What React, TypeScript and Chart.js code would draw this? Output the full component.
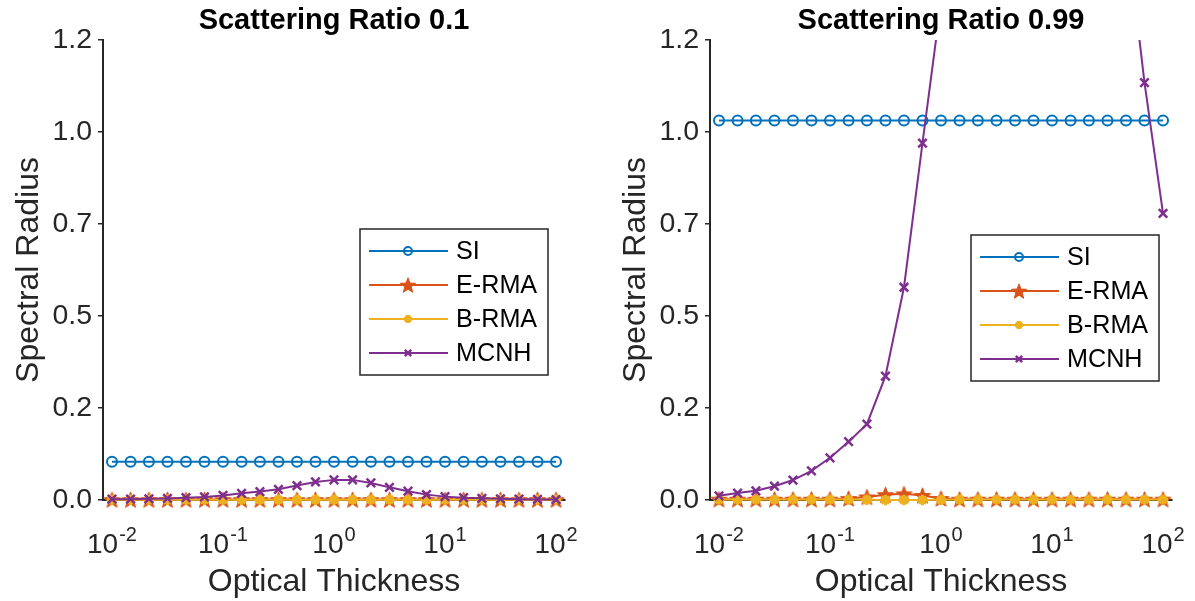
import React, { useEffect, useRef } from 'react';
import { Chart, registerables } from 'chart.js';
import { drawPoint } from 'chart.js/helpers';

Chart.register(...registerables);

const FONT = '"Liberation Sans", Arial, Helvetica, sans-serif';
Chart.defaults.font.family = FONT;

// ---------- data ----------
const opticalThickness = [
  0.01, 0.0147, 0.0215, 0.0316, 0.0464, 0.0681,
  0.1, 0.147, 0.215, 0.316, 0.464, 0.681,
  1, 1.47, 2.15, 3.16, 4.64, 6.81,
  10, 14.7, 21.5, 31.6, 46.4, 68.1, 100,
];

const seriesNames = ['SI', 'E-RMA', 'B-RMA', 'MCNH'];
const panelTitles = ['Scattering Ratio 0.1', 'Scattering Ratio 0.99'];

// Scattering ratio 0.1
const siLow = [0.1, 0.1, 0.1, 0.1, 0.1, 0.1, 0.1, 0.1, 0.1, 0.1, 0.1, 0.1, 0.1, 0.1, 0.1, 0.1, 0.1, 0.1, 0.1, 0.1, 0.1, 0.1, 0.1, 0.1, 0.1];
const eRmaLow = [0.001, 0.001, 0.001, 0.001, 0.001, 0.001, 0.001, 0.001, 0.001, 0.001, 0.001, 0.001, 0.001, 0.001, 0.001, 0.001, 0.001, 0.001, 0.001, 0.001, 0.001, 0.001, 0.001, 0.001, 0.001];
const bRmaLow = [0.0005, 0.0005, 0.0005, 0.0005, 0.0005, 0.0005, 0.0005, 0.0005, 0.0005, 0.0005, 0.0005, 0.0005, 0.0005, 0.0005, 0.0005, 0.0005, 0.0005, 0.0005, 0.0005, 0.0005, 0.0005, 0.0005, 0.0005, 0.0005, 0.0005];
const mcnhLow = [0.002, 0.002, 0.003, 0.004, 0.006, 0.008, 0.012, 0.0175, 0.022, 0.028, 0.0376, 0.047, 0.0525, 0.0525, 0.0446, 0.033, 0.023, 0.014, 0.0088, 0.006, 0.0044, 0.003, 0.002, 0.0015, 0.001];

// Scattering ratio 0.99
const siHigh = [0.99, 0.99, 0.99, 0.99, 0.99, 0.99, 0.99, 0.99, 0.99, 0.99, 0.99, 0.99, 0.99, 0.99, 0.99, 0.99, 0.99, 0.99, 0.99, 0.99, 0.99, 0.99, 0.99, 0.99, 0.99];
const eRmaHigh = [0.002, 0.002, 0.002, 0.002, 0.002, 0.002, 0.002, 0.004, 0.008, 0.014, 0.016, 0.012, 0.004, 0.002, 0.002, 0.002, 0.002, 0.002, 0.002, 0.002, 0.002, 0.002, 0.002, 0.002, 0.002];
const bRmaHigh = [0.001, 0.001, 0.001, 0.001, 0.001, 0.001, 0.001, 0.001, 0.0005, 0.0, 0.0, 0.0, 0.0005, 0.001, 0.001, 0.001, 0.001, 0.001, 0.001, 0.001, 0.001, 0.001, 0.001, 0.001, 0.001];
const mcnhHigh = [0.011, 0.018, 0.024, 0.036, 0.052, 0.076, 0.11, 0.152, 0.198, 0.323, 0.555, 0.931, 1.3, 1.6, 1.9, 2.2, 2.4, 2.5, 2.4, 2.2, 1.95, 1.7, 1.5, 1.089, 0.748];

const yTicks = [0, 0.24, 0.48, 0.72, 0.96, 1.2];
const xTicks = [0.01, 0.1, 1, 10, 100];
const xTickBase = '10';
const xTickExponents = ['-2', '-1', '0', '1', '2'];
const xMin = 0.0083;
const xMax = 120.5;

const colors = ['#0072BD', '#D95319', '#EDB120', '#7E2F8E'];
const axisColor = '#262626';

// ---------- marker image for filled pentagram ----------
function makeStar(r: number, color: string) {
  const c = document.createElement('canvas');
  const s = Math.ceil(r * 2 + 2);
  c.width = s;
  c.height = s;
  const ctx = c.getContext('2d')!;
  const cx = s / 2;
  const cy = s / 2 + r * 0.1;
  const inner = r * 0.42;
  ctx.beginPath();
  for (let k = 0; k < 10; k++) {
    const ang = -Math.PI / 2 + (k * Math.PI) / 5;
    const rad = k % 2 === 0 ? r : inner;
    const px = cx + rad * Math.cos(ang);
    const py = cy + rad * Math.sin(ang);
    if (k === 0) ctx.moveTo(px, py);
    else ctx.lineTo(px, py);
  }
  ctx.closePath();
  ctx.fillStyle = color;
  ctx.fill();
  ctx.strokeStyle = color;
  ctx.lineWidth = 1;
  ctx.stroke();
  return c;
}

// ---------- MATLAB-like boxed legend ----------
const boxLegend = {
  id: 'boxLegend',
  afterDatasetsDraw(chart: any, _args: any, opts: any) {
    const { ctx, chartArea } = chart;
    const w = opts.width;
    const h = opts.height;
    const x = chartArea.right - opts.right - w;
    const y = chartArea.top + opts.top;
    ctx.save();
    ctx.fillStyle = '#ffffff';
    ctx.fillRect(x, y, w, h);
    ctx.strokeStyle = axisColor;
    ctx.lineWidth = 1.5;
    ctx.strokeRect(x, y, w, h);
    ctx.font = `${opts.fontSize}px ${FONT}`;
    ctx.textBaseline = 'middle';
    ctx.textAlign = 'left';
    chart.data.datasets.forEach((ds: any, i: number) => {
      const ry = y + opts.rowStart + i * opts.rowGap;
      ctx.strokeStyle = ds.borderColor;
      ctx.lineWidth = ds.borderWidth;
      ctx.beginPath();
      ctx.moveTo(x + 9, ry);
      ctx.lineTo(x + 88, ry);
      ctx.stroke();
      ctx.fillStyle = ds.pointBackgroundColor;
      ctx.strokeStyle = ds.pointBorderColor;
      ctx.lineWidth = ds.pointBorderWidth;
      drawPoint(ctx, {
        pointStyle: ds.legendPointStyle ?? ds.pointStyle,
        radius: ds.legendRadius ?? ds.pointRadius,
        rotation: 0,
        borderWidth: ds.pointBorderWidth,
      } as any, x + 48, ry);
      ctx.fillStyle = '#000000';
      ctx.fillText(ds.label, x + 96, ry + 1);
    });
    ctx.restore();
  },
};

// ---------- power-of-ten tick labels (10 with raised exponent) ----------
const powerTicks = {
  id: 'powerTicks',
  afterDraw(chart: any) {
    const sx = chart.scales.x;
    const ctx = chart.ctx;
    ctx.save();
    ctx.fillStyle = axisColor;
    ctx.textAlign = 'left';
    ctx.textBaseline = 'alphabetic';
    xTicks.forEach((v, k) => {
      const exp = xTickExponents[k];
      ctx.font = `28px ${FONT}`;
      const wb = ctx.measureText(xTickBase).width;
      ctx.font = `20px ${FONT}`;
      const we = ctx.measureText(exp).width;
      const x0 = sx.getPixelForValue(v) - (wb + we + 1) / 2;
      const yb = sx.top + 53;
      ctx.font = `28px ${FONT}`;
      ctx.fillText(xTickBase, x0, yb);
      ctx.font = `20px ${FONT}`;
      ctx.fillText(exp, x0 + wb + 1, yb - 12);
    });
    ctx.restore();
  },
};

function buildConfig(title: string, series: number[][], legendPos: { right: number; top: number }, star: any, smallStar: any) {
  const toPts = (arr: number[]) => opticalThickness.map((x, i) => ({ x, y: arr[i] }));
  const noClip = { left: false, right: false, bottom: false, top: false };
  const datasets: any[] = [
    {
      label: seriesNames[0], data: toPts(series[0]), borderColor: colors[0], borderWidth: 2,
      pointStyle: 'circle', pointRadius: 5, pointBorderWidth: 2, pointBorderColor: colors[0],
      pointBackgroundColor: 'rgba(0,0,0,0)', order: 4, clip: noClip, legendRadius: 4,
    },
    {
      label: seriesNames[1], data: toPts(series[1]), borderColor: colors[1], borderWidth: 2,
      pointStyle: star, pointRadius: 8, pointBorderWidth: 1, pointBorderColor: colors[1],
      pointBackgroundColor: colors[1], order: 3, clip: noClip, legendPointStyle: smallStar,
    },
    {
      label: seriesNames[2], data: toPts(series[2]), borderColor: colors[2], borderWidth: 2,
      pointStyle: 'star', pointRadius: 5.2, pointBorderWidth: 3, pointBorderColor: colors[2],
      pointBackgroundColor: colors[2], order: 2, clip: noClip, legendRadius: 4,
    },
    {
      label: seriesNames[3], data: toPts(series[3]), borderColor: colors[3], borderWidth: 2,
      pointStyle: 'crossRot', pointRadius: 6, pointBorderWidth: 2.5, pointBorderColor: colors[3],
      pointBackgroundColor: colors[3], order: 1,
      clip: { left: false, right: false, bottom: false, top: 0 }, legendRadius: 4.5,
    },
  ];

  return {
    type: 'line',
    data: { datasets },
    options: {
      responsive: false,
      animation: false,
      events: [],
      layout: { padding: { left: 0, right: 24, top: 0, bottom: 0 } },
      plugins: {
        legend: { display: false },
        tooltip: { enabled: false },
        title: {
          display: true, text: title, fullSize: false, color: '#000000',
          font: { size: 29, weight: 'bold', family: FONT },
          padding: { top: 4, bottom: 1.2 },
        },
        boxLegend: { ...legendPos, width: 188, height: 146, rowStart: 22, rowGap: 34, fontSize: 25.2 },
      },
      scales: {
        x: {
          type: 'logarithmic', min: xMin, max: xMax,
          afterBuildTicks: (s: any) => { s.ticks = xTicks.map((v) => ({ value: v })); },
          afterFit: (s: any) => { s.paddingLeft = 0; s.paddingRight = 0; s.height = 101; },
          ticks: { display: false, autoSkip: false },
          grid: { display: true, drawOnChartArea: false, drawTicks: true, tickLength: 5, color: axisColor, lineWidth: 1.5 },
          border: { display: true, color: axisColor, width: 2 },
          title: {
            display: true, text: 'Optical Thickness', color: axisColor,
            font: { size: 32, family: FONT }, padding: { top: 0, bottom: 0 },
          },
        },
        y: {
          type: 'linear', min: 0, max: 1.2,
          afterBuildTicks: (s: any) => { s.ticks = yTicks.map((v) => ({ value: v })); },
          afterFit: (s: any) => { s.width = 103; s.paddingTop = 0; s.paddingBottom = 0; },
          ticks: {
            callback: (v: any) => Number(v).toFixed(1),
            font: { size: 28.5, family: FONT }, color: axisColor, padding: 6,
          },
          grid: { display: true, drawOnChartArea: false, drawTicks: true, tickLength: 5, color: axisColor, lineWidth: 1.5 },
          border: { display: true, color: axisColor, width: 2 },
          title: {
            display: true, text: 'Spectral Radius', color: axisColor,
            font: { size: 32, family: FONT }, padding: { top: 10, bottom: 0 },
          },
        },
      },
    },
    plugins: [boxLegend, powerTicks],
  } as any;
}

export default function App() {
  const leftRef = useRef<HTMLCanvasElement | null>(null);
  const rightRef = useRef<HTMLCanvasElement | null>(null);

  useEffect(() => {
    document.body.style.margin = '0';
    const star = makeStar(8.5, colors[1]);
    const smallStar = makeStar(8, colors[1]);
    const c1 = new Chart(leftRef.current!, buildConfig(panelTitles[0], [siLow, eRmaLow, bRmaLow, mcnhLow], { right: 17, top: 189 }, star, smallStar));
    const c2 = new Chart(rightRef.current!, buildConfig(panelTitles[1], [siHigh, eRmaHigh, bRmaHigh, mcnhHigh], { right: 13, top: 195 }, star, smallStar));
    return () => { c1.destroy(); c2.destroy(); };
  }, []);

  return (
    <div style={{ position: 'fixed', left: 0, top: 0, width: 1195, height: 601, overflow: 'hidden', background: '#ffffff' }}>
      <canvas ref={leftRef} width={589} height={601} style={{ position: 'absolute', left: 0, top: 0 }} />
      <canvas ref={rightRef} width={589} height={601} style={{ position: 'absolute', left: 607, top: 0 }} />
    </div>
  );
}
